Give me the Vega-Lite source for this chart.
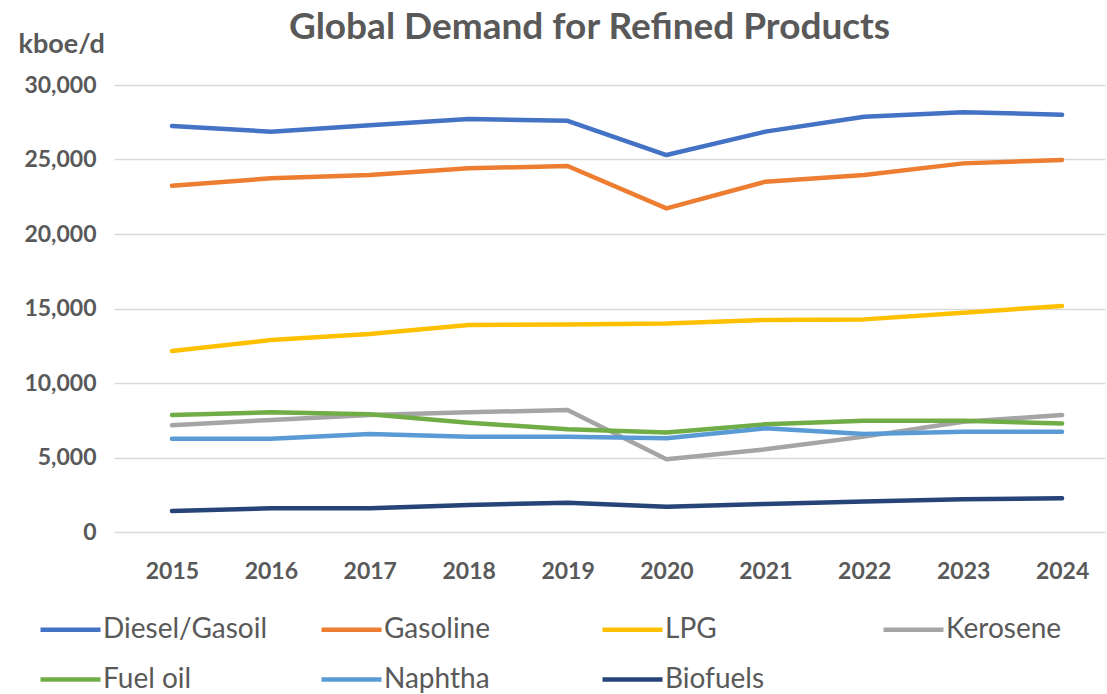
{
  "$schema": "https://vega.github.io/schema/vega-lite/v6.json",
  "autosize": "none",
  "width": 991,
  "height": 447,
  "padding": {"left": 114, "top": 85, "right": 2, "bottom": 162},
  "background": "white",
  "title": {
    "text": "Global Demand for Refined Products",
    "anchor": "middle",
    "dx": -20,
    "offset": -46,
    "baseline": "alphabetic",
    "font": "Lato",
    "fontSize": 37,
    "fontWeight": "bold",
    "color": "#595959"
  },
  "config": {
    "view": {"stroke": null},
    "font": "Lato"
  },
  "data": {
    "values": [
      {"year": 2015, "product": "Diesel/Gasoil", "value": 27250},
      {"year": 2016, "product": "Diesel/Gasoil", "value": 26870},
      {"year": 2017, "product": "Diesel/Gasoil", "value": 27300},
      {"year": 2018, "product": "Diesel/Gasoil", "value": 27720},
      {"year": 2019, "product": "Diesel/Gasoil", "value": 27600},
      {"year": 2020, "product": "Diesel/Gasoil", "value": 25300},
      {"year": 2021, "product": "Diesel/Gasoil", "value": 26870},
      {"year": 2022, "product": "Diesel/Gasoil", "value": 27870},
      {"year": 2023, "product": "Diesel/Gasoil", "value": 28170},
      {"year": 2024, "product": "Diesel/Gasoil", "value": 28010},
      {"year": 2015, "product": "Gasoline", "value": 23240},
      {"year": 2016, "product": "Gasoline", "value": 23740},
      {"year": 2017, "product": "Gasoline", "value": 23960},
      {"year": 2018, "product": "Gasoline", "value": 24410},
      {"year": 2019, "product": "Gasoline", "value": 24560},
      {"year": 2020, "product": "Gasoline", "value": 21720},
      {"year": 2021, "product": "Gasoline", "value": 23510},
      {"year": 2022, "product": "Gasoline", "value": 23960},
      {"year": 2023, "product": "Gasoline", "value": 24740},
      {"year": 2024, "product": "Gasoline", "value": 24970},
      {"year": 2015, "product": "LPG", "value": 12150},
      {"year": 2016, "product": "LPG", "value": 12880},
      {"year": 2017, "product": "LPG", "value": 13290},
      {"year": 2018, "product": "LPG", "value": 13890},
      {"year": 2019, "product": "LPG", "value": 13930},
      {"year": 2020, "product": "LPG", "value": 14000},
      {"year": 2021, "product": "LPG", "value": 14230},
      {"year": 2022, "product": "LPG", "value": 14270},
      {"year": 2023, "product": "LPG", "value": 14720},
      {"year": 2024, "product": "LPG", "value": 15170},
      {"year": 2015, "product": "Kerosene", "value": 7160},
      {"year": 2016, "product": "Kerosene", "value": 7520},
      {"year": 2017, "product": "Kerosene", "value": 7850},
      {"year": 2018, "product": "Kerosene", "value": 8030},
      {"year": 2019, "product": "Kerosene", "value": 8190},
      {"year": 2020, "product": "Kerosene", "value": 4880},
      {"year": 2021, "product": "Kerosene", "value": 5550},
      {"year": 2022, "product": "Kerosene", "value": 6400},
      {"year": 2023, "product": "Kerosene", "value": 7400},
      {"year": 2024, "product": "Kerosene", "value": 7850},
      {"year": 2015, "product": "Fuel oil", "value": 7850},
      {"year": 2016, "product": "Fuel oil", "value": 8030},
      {"year": 2017, "product": "Fuel oil", "value": 7900},
      {"year": 2018, "product": "Fuel oil", "value": 7340},
      {"year": 2019, "product": "Fuel oil", "value": 6890},
      {"year": 2020, "product": "Fuel oil", "value": 6670},
      {"year": 2021, "product": "Fuel oil", "value": 7230},
      {"year": 2022, "product": "Fuel oil", "value": 7470},
      {"year": 2023, "product": "Fuel oil", "value": 7470},
      {"year": 2024, "product": "Fuel oil", "value": 7290},
      {"year": 2015, "product": "Naphtha", "value": 6260},
      {"year": 2016, "product": "Naphtha", "value": 6260},
      {"year": 2017, "product": "Naphtha", "value": 6580},
      {"year": 2018, "product": "Naphtha", "value": 6400},
      {"year": 2019, "product": "Naphtha", "value": 6400},
      {"year": 2020, "product": "Naphtha", "value": 6290},
      {"year": 2021, "product": "Naphtha", "value": 6960},
      {"year": 2022, "product": "Naphtha", "value": 6580},
      {"year": 2023, "product": "Naphtha", "value": 6730},
      {"year": 2024, "product": "Naphtha", "value": 6730},
      {"year": 2015, "product": "Biofuels", "value": 1410},
      {"year": 2016, "product": "Biofuels", "value": 1590},
      {"year": 2017, "product": "Biofuels", "value": 1590},
      {"year": 2018, "product": "Biofuels", "value": 1810},
      {"year": 2019, "product": "Biofuels", "value": 1970},
      {"year": 2020, "product": "Biofuels", "value": 1700},
      {"year": 2021, "product": "Biofuels", "value": 1880},
      {"year": 2022, "product": "Biofuels", "value": 2040},
      {"year": 2023, "product": "Biofuels", "value": 2190},
      {"year": 2024, "product": "Biofuels", "value": 2260}
    ]
  },
  "mark": {"type": "line", "strokeWidth": 4.5, "strokeCap": "round", "strokeJoin": "round"},
  "encoding": {
    "x": {
      "field": "year",
      "type": "quantitative",
      "scale": {"domain": [2014.414, 2024.434], "nice": false, "zero": false},
      "axis": {
        "title": null,
        "values": [2015, 2016, 2017, 2018, 2019, 2020, 2021, 2022, 2023, 2024],
        "format": "d",
        "grid": false,
        "domain": false,
        "ticks": false,
        "tickSize": 0,
        "labelBaseline": "alphabetic",
        "labelPadding": 46,
        "labelFont": "Lato",
        "labelFontSize": 23,
        "labelFontWeight": "bold",
        "labelColor": "#595959"
      }
    },
    "y": {
      "field": "value",
      "type": "quantitative",
      "scale": {"domain": [0, 30000], "nice": false},
      "axis": {
        "title": "kboe/d",
        "titleAngle": 0,
        "titleAlign": "left",
        "titleBaseline": "alphabetic",
        "titleX": -96,
        "titleY": -33,
        "titleFont": "Lato",
        "titleFontSize": 27,
        "titleFontWeight": "bold",
        "titleColor": "#595959",
        "values": [0, 5000, 10000, 15000, 20000, 25000, 30000],
        "format": ",d",
        "grid": true,
        "gridColor": "#D9D9D9",
        "gridWidth": 1.5,
        "domain": false,
        "ticks": false,
        "tickSize": 0,
        "labelPadding": 18,
        "labelFont": "Lato",
        "labelFontSize": 23,
        "labelFontWeight": "bold",
        "labelColor": "#595959"
      }
    },
    "color": {
      "field": "product",
      "type": "nominal",
      "sort": ["Diesel/Gasoil", "Gasoline", "LPG", "Kerosene", "Fuel oil", "Naphtha", "Biofuels"],
      "scale": {
        "domain": ["Diesel/Gasoil", "Gasoline", "LPG", "Kerosene", "Fuel oil", "Naphtha", "Biofuels"],
        "range": ["#4472C4", "#ED7D31", "#FFC000", "#A5A5A5", "#70AD47", "#5B9BD5", "#264478"]
      },
      "legend": {
        "title": null,
        "orient": "none",
        "legendX": -76,
        "legendY": 512,
        "direction": "horizontal",
        "columns": 4,
        "gridAlign": "all",
        "columnPadding": 44,
        "rowPadding": 3,
        "symbolType": "stroke",
        "symbolSize": 3600,
        "symbolStrokeWidth": 4.5,
        "labelOffset": 0,
        "labelFont": "Lato",
        "labelFontSize": 28,
        "labelColor": "#595959",
        "labelLimit": 400
      }
    }
  }
}
